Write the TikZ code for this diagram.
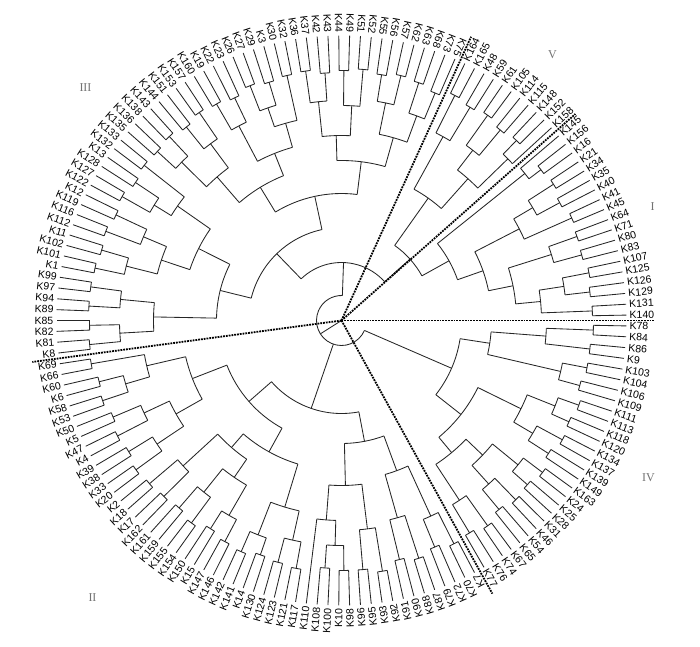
\documentclass[tikz,border=0pt]{standalone}
\usepackage{fontspec}
\setmainfont{Liberation Sans}
\newfontfamily\romfont{Liberation Serif}
\usetikzlibrary{calc}

\newcommand{\dAng}{2.181818}
\newcommand{\rLeaf}{285}

% clade: name, radius, children (leaf numbers or clade names)
\newcommand{\mkclade}[3]{%
  \gdef\cfirst{}%
  \foreach \ch in {#3}{%
    \ifx\cfirst\empty \xdef\cfirst{\ch}\fi
    \xdef\clast{\ch}}%
  \pgfmathsetmacro\afirst{\csname ang@\cfirst\endcsname}%
  \pgfmathsetmacro\alast{\csname ang@\clast\endcsname}%
  \pgfmathsetmacro\amid{(\afirst+\alast)/2}%
  \expandafter\xdef\csname ang@#1\endcsname{\amid}%
  \expandafter\xdef\csname rad@#1\endcsname{#2}%
  \draw[branch] (\afirst:#2pt) arc[start angle=\afirst, end angle=\alast, radius=#2pt];
  \foreach \ch in {#3}{%
    \edef\cang{\csname ang@\ch\endcsname}%
    \edef\crad{\csname rad@\ch\endcsname}%
    \draw[branch] (\cang:#2pt) -- (\cang:\crad pt);}%
}

\tikzset{
    branch/.style = {line width=0.85pt, black!85},
    tiplab/.style = {font=\fontsize{10.5}{12}\selectfont, text=black, inner sep=0pt},
    cutline/.style = {densely dotted, line width=1.8pt},
    grouplab/.style = {font=\romfont\fontsize{12}{14}\selectfont, text=black!55}
}

\begin{document}
\begin{tikzpicture}
    \useasboundingbox (-341.5pt,-325.5pt) rectangle (358.5pt,320.5pt);
    \coordinate (ctr) at (0,0);

    % tip labels, clockwise from the horizontal cut
    \foreach \lab [count=\i from 0] in {K78,K84,K86,K9,K103,K104,K106,K109,K111,K113,K118,K120,K134,K137,K139,K149,K163,K24,K25,K28,K31,K46,K54,K65,K67,K74,K76,K77,
        K7,K70,K72,K79,K87,K88,K90,K91,K92,K93,K95,K96,K98,K10,K100,K108,K110,K117,K121,K123,K124,K130,K14,K141,K142,K146,K147,K15,K150,K154,K155,K159,K161,K162,K17,K18,K2,K20,K33,K38,K39,K4,K47,K5,K50,K53,K58,K6,K60,K66,K69,
        K8,K81,K82,K85,K89,K94,K97,K99,K1,K101,K102,K11,K112,K116,K119,K12,K122,K127,K128,K13,K132,K133,K135,K136,K138,K143,K144,K151,K153,K157,K160,K19,K22,K23,K26,K27,K29,K3,K30,K32,K36,K37,K42,K43,K44,K49,K51,K52,K55,K56,K57,K62,K63,K68,K73,K75,
        K164,K165,K48,K59,K61,K105,K114,K115,K148,K152,K158,
        K145,K156,K16,K21,K34,K35,K40,K41,K45,K64,K71,K80,K83,K107,K125,K126,K129,K131,K140}{
        \pgfmathsetmacro\ta{-(\i+0.5)*\dAng}
        \expandafter\xdef\csname ang@\i\endcsname{\ta}
        \expandafter\xdef\csname rad@\i\endcsname{\rLeaf}
        \ifnum\i<28 \def\flip{0}\else\ifnum\i>134 \def\flip{0}\else\def\flip{1}\fi\fi
        \if1\flip
            \pgfmathsetmacro\tb{\ta+180}
            \node[tiplab, anchor=east, rotate=\tb] (t\i) at (\ta:288pt) {\lab};
        \else
            \node[tiplab, anchor=west, rotate=\ta] (t\i) at (\ta:288pt) {\lab};
        \fi
    }

    % leaf pairs
    \foreach \k/\rr in {0/252,2/250,4/250,6/247,8/252,10/249,12/251,14/246,16/252,18/248,20/250,22/246,24/252,26/248,
        28/250,30/245,32/250,34/246,36/254,38/250,40/250,42/248,45/252,47/250,49/248,51/252,53/250,55/246,57/252,59/248,61/250,63/252,65/254,67/250,69/252,71/248,73/252,75/250,77/254,
        79/253,81/252,83/253,85/253,87/252,89/250,91/252,93/249,95/252,97/248,99/251,101/250,103/252,105/248,107/252,109/250,111/247,113/252,115/249,117/251,119/252,121/248,123/250,125/252,127/249,129/252,131/250,133/246,
        135/252,137/249,139/252,141/248,143/251,
        147/250,149/252,151/248,153/252,155/250,157/249,159/252,161/250,163/251}{
        \mkclade{P\k}{\rr}{\k,\the\numexpr\k+1\relax}
    }

    % group IV
    \mkclade{A1}{205}{P0,P2}
    \mkclade{A2}{225}{P4,P6}
    \mkclade{A}{150}{A1,A2}
    \mkclade{B1}{230}{P8,P10}
    \mkclade{B2}{222}{P12,P14}
    \mkclade{B12}{200}{B1,B2}
    \mkclade{B3}{228}{P16,P18}
    \mkclade{B4}{220}{P20,P22}
    \mkclade{B34}{195}{B3,B4}
    \mkclade{B5}{215}{P24,P26}
    \mkclade{B345}{172}{B34,B5}
    \mkclade{B}{152}{B12,B345}
    \mkclade{IVr}{120}{A,B}

    % group II
    \mkclade{C1a}{215}{P28,P30}
    \mkclade{C1b}{205}{P32,P34}
    \mkclade{C1}{160}{C1a,C1b}
    \mkclade{C2a}{210}{P36,P38}
    \mkclade{C2b}{225}{P40,P42}
    \mkclade{C2c}{200}{C2b,44}
    \mkclade{C2}{165}{C2a,C2c}
    \mkclade{C}{123}{C1,C2}
    \mkclade{D1a}{225}{P45,P47}
    \mkclade{D1b}{230}{P49,P51}
    \mkclade{D1ab}{195}{D1a,D1b}
    \mkclade{D1c}{225}{P53,P55}
    \mkclade{D1d}{220}{P57,P59}
    \mkclade{D1cd}{190}{D1c,D1d}
    \mkclade{D1e}{215}{P61,P63}
    \mkclade{D1cde}{168}{D1cd,D1e}
    \mkclade{D1}{150}{D1ab,D1cde}
    \mkclade{D2a}{222}{P65,P67}
    \mkclade{D2b}{218}{P69,P71}
    \mkclade{D2ab}{190}{D2a,D2b}
    \mkclade{D2c}{225}{P73,P75}
    \mkclade{D2d}{200}{D2c,P77}
    \mkclade{D2}{160}{D2ab,D2d}
    \mkclade{D}{123}{D1,D2}
    \mkclade{IIr}{93}{C,D}

    % group III
    \mkclade{L1a}{222}{P79,P81}
    \mkclade{L1b}{222}{P83,P85}
    \mkclade{L1}{188}{L1a,L1b}
    \mkclade{L2a}{222}{P87,P89}
    \mkclade{L2b}{215}{P91,P93}
    \mkclade{L2ab}{190}{L2a,L2b}
    \mkclade{L2c}{220}{P95,P97}
    \mkclade{L2d}{200}{L2c,P99}
    \mkclade{L2}{160}{L2ab,L2d}
    \mkclade{L}{125}{L1,L2}
    \mkclade{U1a1}{225}{P101,P103}
    \mkclade{U1a2}{220}{P105,P107}
    \mkclade{U1a}{190}{U1a1,U1a2}
    \mkclade{U1b1}{220}{P109,P111}
    \mkclade{U1b2}{225}{P113,P115}
    \mkclade{U1b3}{205}{U1b2,P117}
    \mkclade{U1b}{180}{U1b1,U1b3}
    \mkclade{U1}{156}{U1a,U1b}
    \mkclade{U2a1}{220}{P119,P121}
    \mkclade{U2a2}{215}{P123,P125}
    \mkclade{U2a}{185}{U2a1,U2a2}
    \mkclade{U2b1}{222}{P127,P129}
    \mkclade{U2b2}{218}{P131,P133}
    \mkclade{U2b}{190}{U2b1,U2b2}
    \mkclade{U2}{160}{U2a,U2b}
    \mkclade{U}{127}{U1,U2}
    \mkclade{IIIr}{93}{L,U}

    % group V
    \mkclade{V1}{210}{P135,P137}
    \mkclade{V2a}{215}{P139,P141}
    \mkclade{V2b}{232}{P143,145}
    \mkclade{V2}{190}{V2a,V2b}
    \mkclade{Vr}{150}{V1,V2}

    % group I
    \mkclade{I1}{235}{146,P147}
    \mkclade{I2x1}{222}{P149,P151}
    \mkclade{I2x}{200}{I2x1,P153}
    \mkclade{I2a}{220}{P155,P157}
    \mkclade{I2b}{225}{P159,P161}
    \mkclade{I2c}{200}{I2b,P163}
    \mkclade{I2y}{175}{I2a,I2c}
    \mkclade{I2}{150}{I2x,I2y}
    \mkclade{Ir}{123}{I1,I2}

    % top levels
    \mkclade{Ar}{92}{Vr,Ir}
    \mkclade{Xr}{58}{IIIr,Ar}
    \mkclade{root}{25}{IVr,IIr,Xr}
    \coordinate (rootpt) at (\csname ang@root\endcsname:25pt);
    \draw[branch] (ctr) -- (rootpt);

    % group cuts
    \foreach \n/\a in {0/0,1/-61.09,2/-172.36,3/-294.55,4/-318.55}{
        \coordinate (cut\n) at (\a:312pt);
        \draw[cutline] (ctr) -- (cut\n);
    }

    % group labels
    \node[grouplab] (gI) at (311pt,114pt) {I};
    \node[grouplab] (gII) at (-249pt,-277pt) {II};
    \node[grouplab] (gIII) at (-256pt,233pt) {III};
    \node[grouplab] (gIV) at (307pt,-157pt) {IV};
    \node[grouplab] (gV) at (211pt,266pt) {V};
\end{tikzpicture}
\end{document}
